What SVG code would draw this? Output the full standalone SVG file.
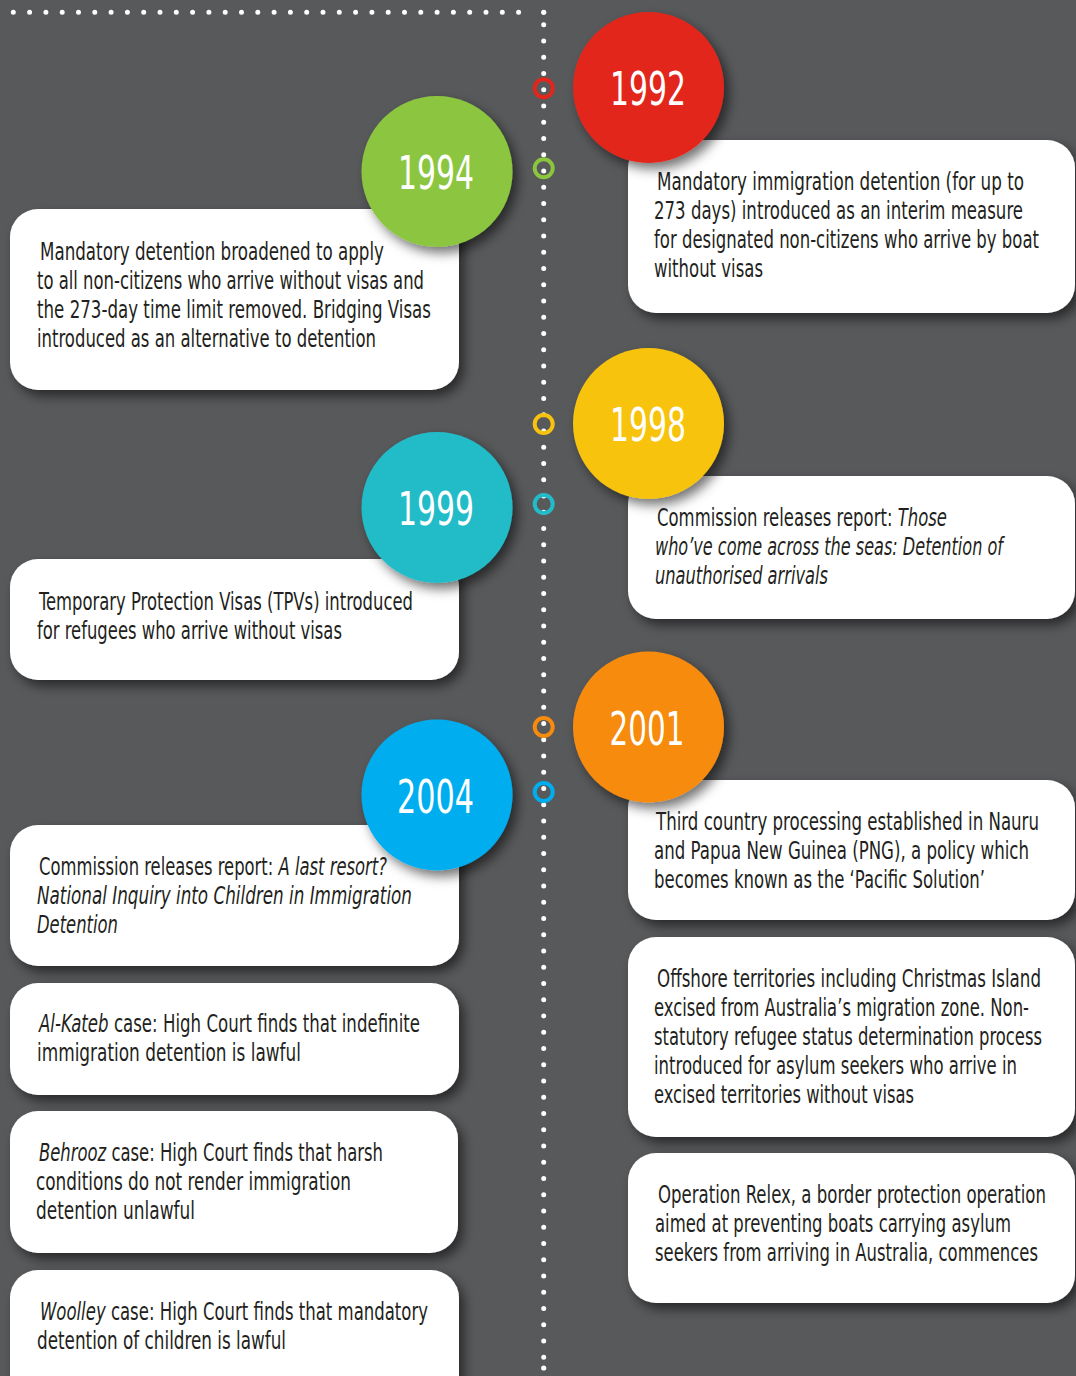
<svg xmlns="http://www.w3.org/2000/svg" width="1076" height="1376" viewBox="0 0 1076 1376">
<defs>
<filter id="sh" x="-20%" y="-20%" width="150%" height="150%">
<feDropShadow dx="5" dy="6" stdDeviation="6" flood-color="#000" flood-opacity="0.55"/>
</filter>
<style>
.bg{fill:#58595B}
.card{fill:#FFFFFF;filter:url(#sh)}
.disc{filter:url(#sh)}
.t{font-family:"Liberation Sans Narrow","DejaVu Sans Condensed","Liberation Sans",sans-serif;font-size:24px;fill:#231F20}
.i{font-style:italic}
.yr{font-family:"Liberation Sans Narrow","DejaVu Sans Condensed","Liberation Sans",sans-serif;font-size:46px;fill:#FFFFFF;text-anchor:middle}
.dots{stroke:#FFFFFF;stroke-width:5;stroke-linecap:round;fill:none}
.ring{fill:none;stroke-width:4}
</style>
</defs>
<rect class="bg" x="0" y="0" width="1076" height="1376"/>

<g id="connectors">
<line class="dots" x1="13.3" y1="12.3" x2="520" y2="12.3" stroke-dasharray="0 16.3"/>
<circle cx="543.7" cy="12.3" r="2.6" fill="#FFFFFF"/>
<line class="dots" x1="543.7" y1="24.7" x2="543.7" y2="1358" stroke-dasharray="0 16.25"/>
<circle cx="543.7" cy="1368" r="2.6" fill="#FFFFFF"/>
<circle class="ring" cx="543.7" cy="88.3" r="9" stroke="#E3261B"/>
<circle class="ring" cx="543.7" cy="168.3" r="9" stroke="#8CC63F"/>
<circle class="ring" cx="543.7" cy="424" r="9" stroke="#F8C30F"/>
<circle class="ring" cx="543.7" cy="504" r="9" stroke="#22BCC9"/>
<circle class="ring" cx="543.7" cy="727" r="9" stroke="#F68B0D"/>
<circle class="ring" cx="543.7" cy="792" r="9" stroke="#00AEEF"/>
</g>

<g id="n1992">
<rect class="card" x="628" y="140" width="447" height="173" rx="28"/>
<circle class="disc" cx="648.5" cy="87.5" r="75.5" fill="#E3261B"/>
<g transform="scale(0.74 1)">
<text class="yr" x="875.68" y="105" textLength="102.7" lengthAdjust="spacingAndGlyphs">1992</text>
<text class="t" x="887.84" y="190" textLength="495.95" lengthAdjust="spacingAndGlyphs">Mandatory immigration detention (for up to</text>
<text class="t" x="883.78" y="219" textLength="498.65" lengthAdjust="spacingAndGlyphs">273 days) introduced as an interim measure</text>
<text class="t" x="883.78" y="248" textLength="520.27" lengthAdjust="spacingAndGlyphs">for designated non-citizens who arrive by boat</text>
<text class="t" x="883.78" y="277" textLength="147.3" lengthAdjust="spacingAndGlyphs">without visas</text>
</g>
</g>

<g id="n1994">
<rect class="card" x="10" y="209" width="449" height="181" rx="28"/>
<circle class="disc" cx="437" cy="171.5" r="75.5" fill="#8CC63F"/>
<g transform="scale(0.74 1)">
<text class="yr" x="589.19" y="189" textLength="102.7" lengthAdjust="spacingAndGlyphs">1994</text>
<text class="t" x="54.05" y="260" textLength="464.86" lengthAdjust="spacingAndGlyphs">Mandatory detention broadened to apply</text>
<text class="t" x="50" y="289" textLength="522.97" lengthAdjust="spacingAndGlyphs">to all non-citizens who arrive without visas and</text>
<text class="t" x="50" y="318" textLength="532.43" lengthAdjust="spacingAndGlyphs">the 273-day time limit removed. Bridging Visas</text>
<text class="t" x="50" y="347" textLength="458.11" lengthAdjust="spacingAndGlyphs">introduced as an alternative to detention</text>
</g>
</g>

<g id="n1998">
<rect class="card" x="628" y="476" width="447" height="143" rx="28"/>
<circle class="disc" cx="648.5" cy="423.5" r="75.5" fill="#F8C30F"/>
<g transform="scale(0.74 1)">
<text class="yr" x="875.68" y="441" textLength="102.7" lengthAdjust="spacingAndGlyphs">1998</text>
<text class="t" x="887.84" y="526" textLength="391.89" lengthAdjust="spacingAndGlyphs">Commission releases report: <tspan class="i">Those</tspan></text>
<text class="t i" x="885.14" y="555" textLength="470.27" lengthAdjust="spacingAndGlyphs">who’ve come across the seas: Detention of</text>
<text class="t i" x="885.14" y="584" textLength="233.78" lengthAdjust="spacingAndGlyphs">unauthorised arrivals</text>
</g>
</g>

<g id="n1999">
<rect class="card" x="10" y="559" width="449" height="121" rx="28"/>
<circle class="disc" cx="437" cy="507.5" r="75.5" fill="#22BCC9"/>
<g transform="scale(0.74 1)">
<text class="yr" x="589.19" y="525" textLength="102.7" lengthAdjust="spacingAndGlyphs">1999</text>
<text class="t" x="52.7" y="610" textLength="505.41" lengthAdjust="spacingAndGlyphs">Temporary Protection Visas (TPVs) introduced</text>
<text class="t" x="50" y="639" textLength="412.16" lengthAdjust="spacingAndGlyphs">for refugees who arrive without visas</text>
</g>
</g>

<g id="n2001">
<rect class="card" x="628" y="780" width="447" height="140" rx="28"/>
<circle class="disc" cx="648.5" cy="727" r="75.5" fill="#F68B0D"/>
<g transform="scale(0.74 1)">
<text class="yr" x="874.32" y="745" textLength="101.35" lengthAdjust="spacingAndGlyphs">2001</text>
<text class="t" x="886.49" y="830" textLength="517.57" lengthAdjust="spacingAndGlyphs">Third country processing established in Nauru</text>
<text class="t" x="883.78" y="859" textLength="506.76" lengthAdjust="spacingAndGlyphs">and Papua New Guinea (PNG), a policy which</text>
<text class="t" x="883.78" y="888" textLength="447.3" lengthAdjust="spacingAndGlyphs">becomes known as the ‘Pacific Solution’</text>
</g>
</g>

<g id="n2004">
<rect class="card" x="10" y="825" width="449" height="141" rx="28"/>
<circle class="disc" cx="437" cy="795" r="75.5" fill="#00AEEF"/>
<g transform="scale(0.74 1)">
<text class="yr" x="588.51" y="813" textLength="104.05" lengthAdjust="spacingAndGlyphs">2004</text>
<text class="t" x="52.7" y="875" textLength="470.27" lengthAdjust="spacingAndGlyphs">Commission releases report: <tspan class="i">A last resort?</tspan></text>
<text class="t i" x="50" y="904" textLength="506.76" lengthAdjust="spacingAndGlyphs">National Inquiry into Children in Immigration</text>
<text class="t i" x="50" y="933" textLength="109.46" lengthAdjust="spacingAndGlyphs">Detention</text>
</g>
</g>

<g id="nAlKateb">
<rect class="card" x="10" y="983" width="449" height="112" rx="28"/>
<g transform="scale(0.74 1)">
<text class="t" x="52.7" y="1032" textLength="514.86" lengthAdjust="spacingAndGlyphs"><tspan class="i">Al-Kateb</tspan> case: High Court finds that indefinite</text>
<text class="t" x="50" y="1061" textLength="356.76" lengthAdjust="spacingAndGlyphs">immigration detention is lawful</text>
</g>
</g>

<g id="nBehrooz">
<rect class="card" x="10" y="1111" width="448" height="142" rx="28"/>
<g transform="scale(0.74 1)">
<text class="t" x="52.7" y="1161" textLength="464.86" lengthAdjust="spacingAndGlyphs"><tspan class="i">Behrooz</tspan> case: High Court finds that harsh</text>
<text class="t" x="48.65" y="1190" textLength="425.68" lengthAdjust="spacingAndGlyphs">conditions do not render immigration</text>
<text class="t" x="48.65" y="1219" textLength="214.86" lengthAdjust="spacingAndGlyphs">detention unlawful</text>
</g>
</g>

<g id="nWoolley">
<rect class="card" x="10" y="1270" width="449" height="150" rx="28"/>
<g transform="scale(0.74 1)">
<text class="t" x="54.05" y="1320" textLength="524.32" lengthAdjust="spacingAndGlyphs"><tspan class="i">Woolley</tspan> case: High Court finds that mandatory</text>
<text class="t" x="50" y="1349" textLength="336.49" lengthAdjust="spacingAndGlyphs">detention of children is lawful</text>
</g>
</g>

<g id="nOffshore">
<rect class="card" x="628" y="937" width="447" height="200" rx="28"/>
<g transform="scale(0.74 1)">
<text class="t" x="887.84" y="987" textLength="518.92" lengthAdjust="spacingAndGlyphs">Offshore territories including Christmas Island</text>
<text class="t" x="883.78" y="1016" textLength="506.76" lengthAdjust="spacingAndGlyphs">excised from Australia’s migration zone. Non-</text>
<text class="t" x="883.78" y="1045" textLength="524.32" lengthAdjust="spacingAndGlyphs">statutory refugee status determination process</text>
<text class="t" x="883.78" y="1074" textLength="490.54" lengthAdjust="spacingAndGlyphs">introduced for asylum seekers who arrive in</text>
<text class="t" x="883.78" y="1103" textLength="351.35" lengthAdjust="spacingAndGlyphs">excised territories without visas</text>
</g>
</g>

<g id="nRelex">
<rect class="card" x="628" y="1153" width="447" height="150" rx="28"/>
<g transform="scale(0.74 1)">
<text class="t" x="889.19" y="1203" textLength="524.32" lengthAdjust="spacingAndGlyphs">Operation Relex, a border protection operation</text>
<text class="t" x="885.14" y="1232" textLength="481.08" lengthAdjust="spacingAndGlyphs">aimed at preventing boats carrying asylum</text>
<text class="t" x="885.14" y="1261" textLength="517.57" lengthAdjust="spacingAndGlyphs">seekers from arriving in Australia, commences</text>
</g>
</g>
</svg>
